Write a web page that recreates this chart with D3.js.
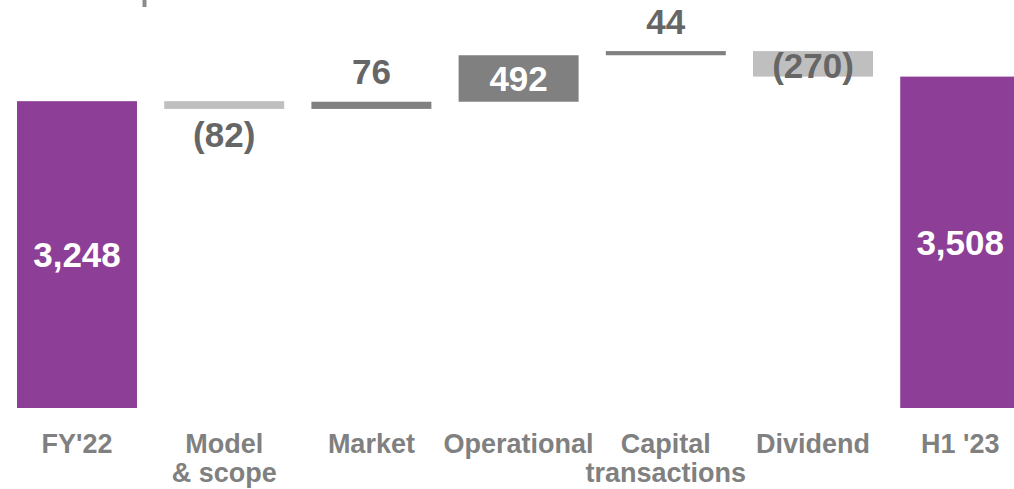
<!DOCTYPE html>
<html>
<head>
<meta charset="utf-8">
<script src="https://cdn.jsdelivr.net/npm/d3@7"></script>
<style>
  html, body { margin: 0; padding: 0; background: #ffffff; overflow: hidden; }
  svg { display: block; font-family: "Liberation Sans", Arial, Helvetica, sans-serif; font-weight: bold; }
</style>
</head>
<body>
<svg id="chart" width="1014" height="489"></svg>
<script>
// Bridge from FY'22 to H1 '23
const categories = ["FY'22", "Model & scope", "Market", "Operational", "Capital transactions", "Dividend", "H1 '23"];
const categoryLines = [["FY'22"], ["Model", "& scope"], ["Market"], ["Operational"], ["Capital", "transactions"], ["Dividend"], ["H1 '23"]];
const values = [3248, -82, 76, 492, 44, -270, 3508];
const kinds = ["total", "delta", "delta", "delta", "delta", "delta", "total"];
const valueLabels = ["3,248", "(82)", "76", "492", "44", "(270)", "3,508"];

const W = 1014, H = 489;
const svg = d3.select("#chart");

const colors = {
  total: "#8D3F97",
  up: "#808080",
  down: "#BFBFBF",
  valueText: "#666666",
  axisText: "#808080"
};

// Running totals give each bar its start and end
let running = 0;
const bars = categories.map((c, i) => {
  let start, end;
  if (kinds[i] === "total") {
    start = 0; end = values[i]; running = values[i];
  } else {
    start = running; end = running + values[i]; running = end;
  }
  return { cat: c, lines: categoryLines[i], value: values[i], kind: kinds[i], label: valueLabels[i], start, end };
});

const x = d3.scaleBand()
  .domain(categories)
  .range([3.4, 1033.8])
  .paddingInner(0.185)
  .paddingOuter(0.0925);

const y = d3.scaleLinear()
  .domain([0, 3508])
  .range([408, 76.6]);

function fillOf(d) {
  if (d.kind === "total") return colors.total;
  return d.value >= 0 ? colors.up : colors.down;
}

const g = svg.append("g");

g.selectAll("rect.bar")
  .data(bars)
  .join("rect")
  .attr("class", "bar")
  .attr("x", d => x(d.cat))
  .attr("width", x.bandwidth())
  .attr("y", d => y(Math.max(d.start, d.end)))
  .attr("height", d => Math.abs(y(d.start) - y(d.end)))
  .attr("fill", fillOf);

// Value labels: inside tall bars, above/below thin ones
const valueSize = 35;
g.selectAll("text.value")
  .data(bars)
  .join("text")
  .attr("class", "value")
  .attr("text-anchor", "middle")
  .attr("font-size", valueSize)
  .attr("x", d => x(d.cat) + x.bandwidth() / 2)
  .attr("y", d => {
    const top = y(Math.max(d.start, d.end));
    const bottom = y(Math.min(d.start, d.end));
    const h = bottom - top;
    if (d.kind === "total" || h > 20) return (top + bottom) / 2 + valueSize * 0.36 + (d.value < 0 ? 2 : 0);
    return d.value >= 0 ? top - 17.5 : bottom + 38.5;
  })
  .attr("fill", d => {
    const h = Math.abs(y(d.start) - y(d.end));
    if (d.kind === "total") return "#ffffff";
    if (h > 20) return d.value >= 0 ? "#ffffff" : colors.valueText;
    return colors.valueText;
  })
  .text(d => d.label);

// Category labels under the bars
const catSize = 27;
const cats = g.selectAll("text.cat")
  .data(bars)
  .join("text")
  .attr("class", "cat")
  .attr("text-anchor", "middle")
  .attr("font-size", catSize)
  .attr("fill", colors.axisText)
  .attr("x", d => x(d.cat) + x.bandwidth() / 2)
  .attr("y", 452.5);

cats.selectAll("tspan")
  .data(d => d.lines.map(l => ({ l, cx: x(d.cat) + x.bandwidth() / 2 })))
  .join("tspan")
  .attr("x", t => t.cx)
  .attr("dy", (t, i) => i === 0 ? 0 : 29)
  .text(t => t.l);

// Short divider stroke at the top edge
svg.append("line")
  .attr("x1", 144.5).attr("x2", 144.5)
  .attr("y1", 0).attr("y2", 7)
  .attr("stroke", "#8a8a8a")
  .attr("stroke-width", 4);
</script>
</body>
</html>
